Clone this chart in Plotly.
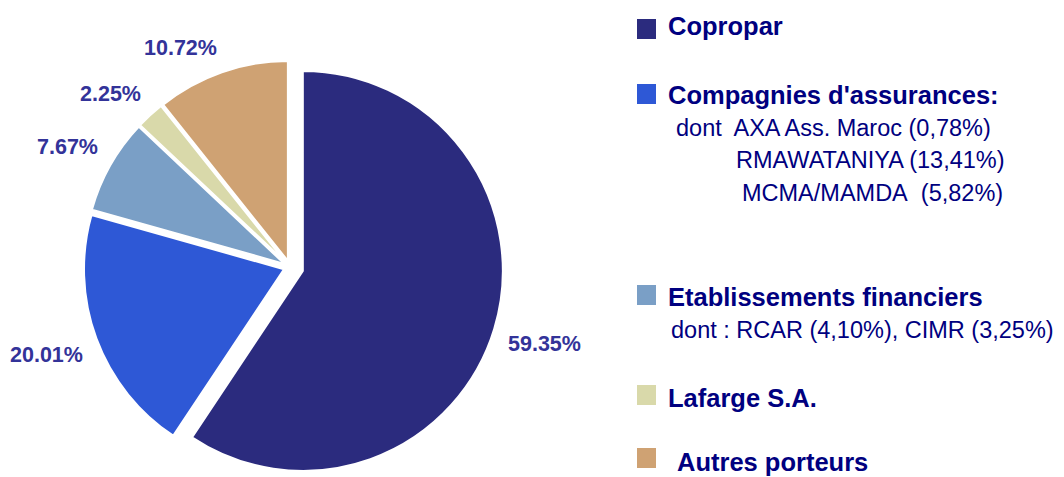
import math
import plotly.graph_objects as go

W, H = 1064, 477
OX, OY = 8, 8  # page body margin offset

categories = ["Copropar", "Compagnies d'assurances:", "Etablissements financiers",
              "Lafarge S.A.", "Autres porteurs"]
values = [59.35, 20.01, 7.67, 2.25, 10.72]
colors = ["#2b2b7e", "#2e58d6", "#7a9fc6", "#d9d9aa", "#cfa273"]
pulls = [0.067, 0.032, 0.032, 0.032, 0.032]

sub_lines = [
    ("dont  AXA Ass. Maroc (0,78%)", 677, 128),
    ("RMAWATANIYA (13,41%)", 737, 160),
    ("MCMA/MAMDA  (5,82%)", 743, 193),
    ("dont : RCAR (4,10%), CIMR (3,25%)", 672, 330),
]
legend_square_y = [29, 94, 295, 395, 458]
legend_title_y = [26, 95, 297, 398, 462]
legend_title_x = [669, 669, 669, 669, 678]

# pie geometry (figure pixels)
CX, CY, R = 290 - OX, 267 - OY, 200
maxpull = max(pulls)
half = R * (1 + maxpull)
y0 = 1 - (CY + half) / H
y1 = y0 + 2 * half / H
xm = CX / W
dom_x = [xm - 0.205, xm + 0.205]
dom_y = [y0, y1]

fig = go.Figure()
fig.add_trace(go.Pie(
    labels=categories,
    values=values,
    sort=False,
    direction="clockwise",
    rotation=0,
    pull=pulls,
    marker=dict(colors=colors, line=dict(color="white", width=2)),
    textinfo="none",
    domain=dict(x=dom_x, y=dom_y),
    hoverinfo="skip",
    showlegend=False,
))


def px(x):
    return (x - OX) / W


def py(y):
    return 1 - (y - OY) / H


shapes = []
annotations = []

# percentage labels: nearest corner of the label box sits just outside each slice
LBL_SIZE = 21.5
char_w = {".": 0.278, "%": 0.889}
total = sum(values)
cum = 0.0
gap, hh = 14, 11
for v, p in zip(values, pulls):
    text = f"{v:.2f}%"
    hw = 0.5 * LBL_SIZE * sum(char_w.get(ch, 0.556) for ch in text)
    theta = 2 * math.pi * (cum + v / 2) / total
    cum += v
    s, c = math.sin(theta), math.cos(theta)
    cx = CX + R * p * s
    cy = CY - R * p * c
    ax = cx + (R + gap) * s
    ay = cy - (R + gap) * c
    lx = ax + hw * (1 if s >= 0 else -1)
    ly = ay + hh * (1 if -c >= 0 else -1)
    annotations.append(dict(xref="paper", yref="paper", x=lx / W, y=1 - ly / H,
                            text=text, showarrow=False,
                            xanchor="center", yanchor="middle",
                            font=dict(family="Liberation Sans", size=LBL_SIZE,
                                      color="#333399", weight="bold")))

# custom legend
for i, cat in enumerate(categories):
    yc = legend_square_y[i]
    shapes.append(dict(type="rect", xref="paper", yref="paper",
                       x0=px(637), x1=px(656), y0=py(yc + 10), y1=py(yc - 10),
                       fillcolor=colors[i], line=dict(width=0)))
    annotations.append(dict(xref="paper", yref="paper", x=px(legend_title_x[i] - 3),
                            y=py(legend_title_y[i]), text=cat, showarrow=False,
                            xanchor="left", yanchor="middle",
                            font=dict(family="Liberation Sans", size=25.5,
                                      color="#000080", weight="bold")))
for text, x, y in sub_lines:
    annotations.append(dict(xref="paper", yref="paper", x=px(x - 3), y=py(y),
                            text=text.replace("  ", "&nbsp; "), showarrow=False,
                            xanchor="left", yanchor="middle",
                            font=dict(family="Liberation Sans", size=23.5,
                                      color="#000080")))

fig.update_layout(
    width=W, height=H,
    margin=dict(l=0, r=0, t=0, b=0),
    paper_bgcolor="white",
    plot_bgcolor="white",
    shapes=shapes,
    annotations=annotations,
)

fig.write_html("out.html")
